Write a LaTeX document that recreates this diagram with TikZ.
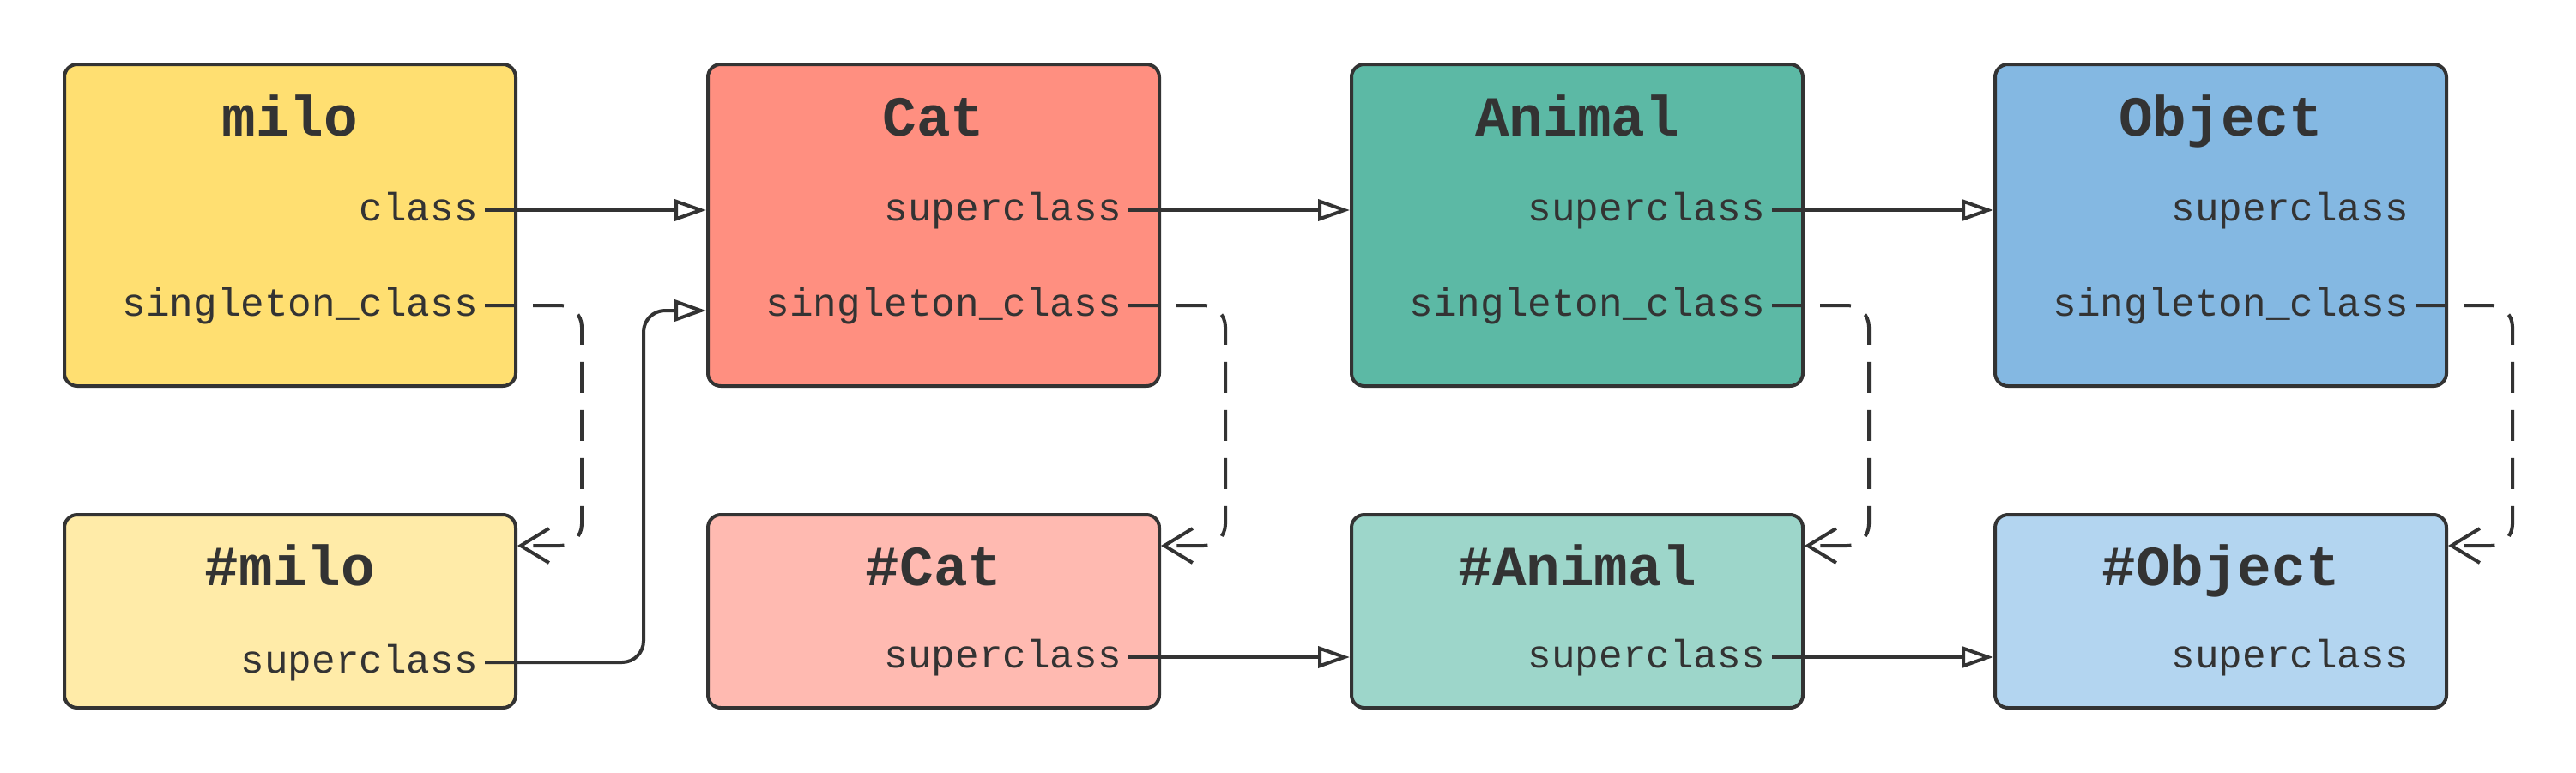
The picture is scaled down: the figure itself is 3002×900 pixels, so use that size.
\documentclass[tikz,border=0pt]{standalone}
\usepackage{fontspec}
\setmonofont{Liberation Mono}
\usetikzlibrary{arrows.meta}
\definecolor{ink}{HTML}{333333}
\definecolor{miloc}{HTML}{FFDF71}
\definecolor{smiloc}{HTML}{FFEBA8}
\definecolor{catc}{HTML}{FF8F80}
\definecolor{scatc}{HTML}{FFBAB1}
\definecolor{animalc}{HTML}{5CB9A5}
\definecolor{sanimalc}{HTML}{9DD6CA}
\definecolor{objectc}{HTML}{84B8E2}
\definecolor{sobjectc}{HTML}{B3D5F0}
\begin{document}
\begin{tikzpicture}[x=1pt,y=-1pt,
 box/.style={draw=ink, line width=4pt, rounded corners=15pt, minimum width=526pt, inner sep=0pt},
 topbox/.style={box, minimum height=375pt},
 botbox/.style={box, minimum height=225pt},
 title/.style={font=\ttfamily\bfseries\fontsize{66}{70}\selectfont, text=ink, anchor=base, inner sep=0pt},
 attr/.style={font=\ttfamily\fontsize{46}{50}\selectfont, text=ink, anchor=east, text height=24pt, text depth=0pt, inner xsep=8pt, inner ysep=0pt},
 conn/.style={draw=ink, line width=4pt, rounded corners=25pt},
 inh/.style={conn, -{Triangle[open, length=37pt, width=25pt]}},
 sing/.style={conn, dash pattern=on 36pt off 20pt, -{Straight Barb[length=33pt, width=40pt]}},
]
\useasboundingbox (0,0) rectangle (3002,900);
% boxes
\node[topbox, fill=miloc] (milo) at (338,262.5) {};
\node[topbox, fill=catc] (cat) at (1088,262.5) {};
\node[topbox, fill=animalc] (animal) at (1838,262.5) {};
\node[topbox, fill=objectc] (object) at (2588,262.5) {};
\node[botbox, fill=smiloc] (smilo) at (338,712.5) {};
\node[botbox, fill=scatc] (scat) at (1088,712.5) {};
\node[botbox, fill=sanimalc] (sanimal) at (1838,712.5) {};
\node[botbox, fill=sobjectc] (sobject) at (2588,712.5) {};
% titles
\node[title] (milot) at (338,158) {milo};
\node[title] (catt) at (1088,158) {Cat};
\node[title] (animalt) at (1838,158) {Animal};
\node[title] (objectt) at (2588,158) {Object};
\node[title] (smilot) at (338,682) {\#milo};
\node[title] (scatt) at (1088,682) {\#Cat};
\node[title] (sanimalt) at (1838,682) {\#Animal};
\node[title] (sobjectt) at (2588,682) {\#Object};
% attributes
\node[attr] (milocls) at (565,245) {class};
\node[attr] (milosing) at (565,356) {singleton\_class};
\node[attr] (catsup) at (1315,245) {superclass};
\node[attr] (catsing) at (1315,356) {singleton\_class};
\node[attr] (animalsup) at (2065,245) {superclass};
\node[attr] (animalsing) at (2065,356) {singleton\_class};
\node[attr] (objectsup) at (2815,245) {superclass};
\node[attr] (objectsing) at (2815,356) {singleton\_class};
\node[attr] (smilosup) at (565,772) {superclass};
\node[attr] (scatsup) at (1315,766) {superclass};
\node[attr] (sanimalsup) at (2065,766) {superclass};
\node[attr] (sobjectsup) at (2815,766) {superclass};
% bend points
\coordinate (d1) at (678,636);
\coordinate (d2) at (1428,636);
\coordinate (d3) at (2178,636);
\coordinate (d4) at (2928,636);
\coordinate (j1) at (750,362);
% connectors
\draw[inh] (milocls.east) -- (milocls.east -| cat.west);
\draw[sing] (milosing.east) -| (d1) -- (d1 -| smilo.east);
\draw[inh] (smilosup.east) -| (j1) -- (j1 -| cat.west);
\draw[inh] (catsup.east) -- (catsup.east -| animal.west);
\draw[sing] (catsing.east) -| (d2) -- (d2 -| scat.east);
\draw[inh] (scatsup.east) -- (scatsup.east -| sanimal.west);
\draw[inh] (animalsup.east) -- (animalsup.east -| object.west);
\draw[sing] (animalsing.east) -| (d3) -- (d3 -| sanimal.east);
\draw[inh] (sanimalsup.east) -- (sanimalsup.east -| sobject.west);
\draw[sing] (objectsing.east) -| (d4) -- (d4 -| sobject.east);
\end{tikzpicture}
\end{document}
